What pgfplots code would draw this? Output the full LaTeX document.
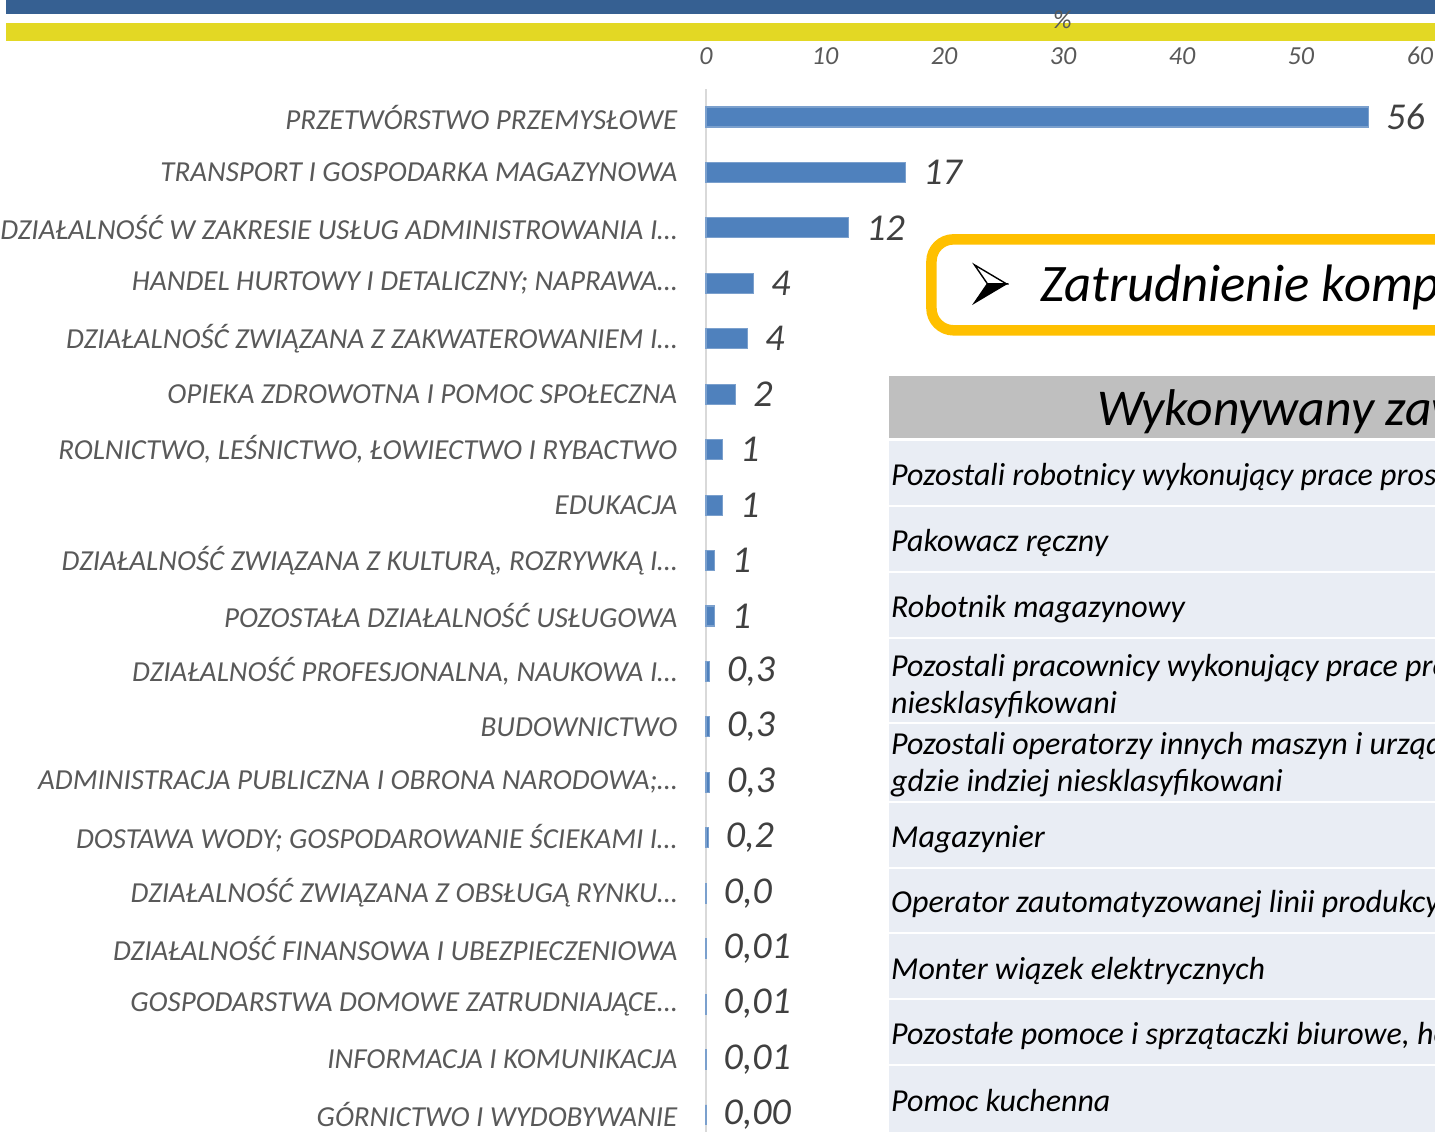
\documentclass[border=0pt]{standalone}
\usepackage{pgfplots}
\pgfplotsset{compat=1.18}
\usepackage{pgfplotstable}
\usepackage{fontspec}
\setmainfont{Carlito}
\definecolor{bandblue}{HTML}{366092}
\definecolor{bandyellow}{HTML}{E3D824}
\definecolor{barblue}{HTML}{4F81BD}
\definecolor{labgray}{HTML}{595959}
\definecolor{datagray}{HTML}{404040}
\definecolor{axisgray}{HTML}{D9D9D9}
\definecolor{headgray}{HTML}{BFBFBF}
\definecolor{rowblue}{HTML}{E9EDF4}
\definecolor{boxyellow}{HTML}{FFC000}

\pgfplotstableread{
idx val lab
0 55.7 56
1 16.8 17
2 12.0 12
3 4.0 4
4 3.5 4
5 2.5 2
6 1.4 1
7 1.4 1
8 0.7 1
9 0.7 1
10 0.3 0,3
11 0.3 0,3
12 0.3 0,3
13 0.2 0,2
14 0.02 0,0
15 0.01 0,01
16 0.01 0,01
17 0.01 0,01
18 0.00 0,00
}\datatable

\begin{document}
\begin{tikzpicture}
\path[use as bounding box, clip] (0,0) rectangle (14.35,-11.32);
\begin{scope}[x=0.01cm,y=-0.01cm]
\fill[bandblue] (6,0) rectangle (1440,14);
\fill[bandyellow] (6,23) rectangle (1440,41);
\node[font=\fontsize{7.4}{8}\selectfont\itshape, text=labgray, inner sep=0pt] at (1063,20) {\%};
\end{scope}
\begin{axis}[
  at={(7.06cm,-0.8928cm)}, anchor=north west,
  scale only axis, width=7.14cm, height=10.534cm,
  xmin=0, xmax=60, ymin=-0.5, ymax=18.5, y dir=reverse,
  xbar, bar width=0.2cm,
  axis x line*=top, axis y line*=left,
  x axis line style={draw=none},
  y axis line style={draw=axisgray, line width=0.8pt},
  xtick={0,10,...,60}, ytick={0,...,18},
  major tick length=0pt,
  /pgf/number format/assume math mode=true,
  xticklabel style={font=\fontsize{7.4}{8}\selectfont\itshape, text=labgray, anchor=center, yshift=0.33cm},
  yticklabel style={font=\fontsize{8.25}{9}\selectfont\itshape, text=labgray, anchor=east, inner sep=0pt, xshift=-0.28cm},
  yticklabels={
    {PRZETWÓRSTWO PRZEMYSŁOWE},
    {TRANSPORT I GOSPODARKA MAGAZYNOWA},
    {DZIAŁALNOŚĆ W ZAKRESIE USŁUG ADMINISTROWANIA I…},
    {HANDEL HURTOWY I DETALICZNY; NAPRAWA…},
    {DZIAŁALNOŚĆ ZWIĄZANA Z ZAKWATEROWANIEM I…},
    {OPIEKA ZDROWOTNA I POMOC SPOŁECZNA},
    {ROLNICTWO, LEŚNICTWO, ŁOWIECTWO I RYBACTWO},
    {EDUKACJA},
    {DZIAŁALNOŚĆ ZWIĄZANA Z KULTURĄ, ROZRYWKĄ I…},
    {POZOSTAŁA DZIAŁALNOŚĆ USŁUGOWA},
    {DZIAŁALNOŚĆ PROFESJONALNA, NAUKOWA I…},
    {BUDOWNICTWO},
    {ADMINISTRACJA PUBLICZNA I OBRONA NARODOWA;…},
    {DOSTAWA WODY; GOSPODAROWANIE ŚCIEKAMI I…},
    {DZIAŁALNOŚĆ ZWIĄZANA Z OBSŁUGĄ RYNKU…},
    {DZIAŁALNOŚĆ FINANSOWA I UBEZPIECZENIOWA},
    {GOSPODARSTWA DOMOWE ZATRUDNIAJĄCE…},
    {INFORMACJA I KOMUNIKACJA},
    {GÓRNICTWO I WYDOBYWANIE}},
  clip=false,
]
\addplot[fill=barblue, draw=barblue!75!white, line width=0.3pt,
  nodes near coords, point meta=explicit symbolic,
  nodes near coords style={anchor=west, inner sep=0pt, xshift=0.17cm,
    font=\fontsize{10.8}{12}\selectfont\itshape, text=datagray}]
  table[x=val, y=idx, meta=lab] {\datatable};
\end{axis}
\begin{scope}[x=0.01cm,y=-0.01cm]
\draw[boxyellow, fill=white, line width=0.105cm, rounded corners=0.22cm] (932,239.5) rectangle (1520,330.5);
% arrowhead bullet
\filldraw[fill=white, draw=black, line width=0.4pt] (975,265) -- (1007,284) -- (988,284) -- cycle;
\filldraw[fill=black, draw=black, line width=0.4pt] (988,284) -- (1007,284) -- (975,303) -- cycle;
\node[anchor=base west, inner sep=0pt, font=\fontsize{15}{16}\selectfont\itshape] at (1040,302) {Zatrudnienie kompetencji};
\fill[headgray] (889,376) rectangle (1440,438);
\node[anchor=base west, inner sep=0pt, font=\fontsize{14.7}{16}\selectfont\itshape] at (1097,426) {Wykonywany zawód};
\foreach \a/\b in {441/505,507/571,573/637,639/722,724/801,803/867,869/933,935/999,1001/1065,1067/1140}
  \fill[rowblue] (889,\a) rectangle (1440,\b);
\begin{scope}[every node/.style={anchor=base west, inner sep=0pt, font=\fontsize{9.1}{10}\selectfont\itshape}]
\node at (891,486) {Pozostali robotnicy wykonujący prace proste gdzie indziej};
\node at (891,552) {Pakowacz ręczny};
\node at (891,618) {Robotnik magazynowy};
\node at (891,677) {Pozostali pracownicy wykonujący prace proste gdzie indziej};
\node at (891,714) {niesklasyfikowani};
\node at (891,755) {Pozostali operatorzy innych maszyn i urządzeń stacjonarnych};
\node at (891,792) {gdzie indziej niesklasyfikowani};
\node at (891,848) {Magazynier};
\node at (891,913) {Operator zautomatyzowanej linii produkcyjnej};
\node at (891,980) {Monter wiązek elektrycznych};
\node at (891,1045) {Pozostałe pomoce i sprzątaczki biurowe, hotelowe i podobne};
\node at (891,1112) {Pomoc kuchenna};
\end{scope}
\end{scope}
\end{tikzpicture}
\end{document}
